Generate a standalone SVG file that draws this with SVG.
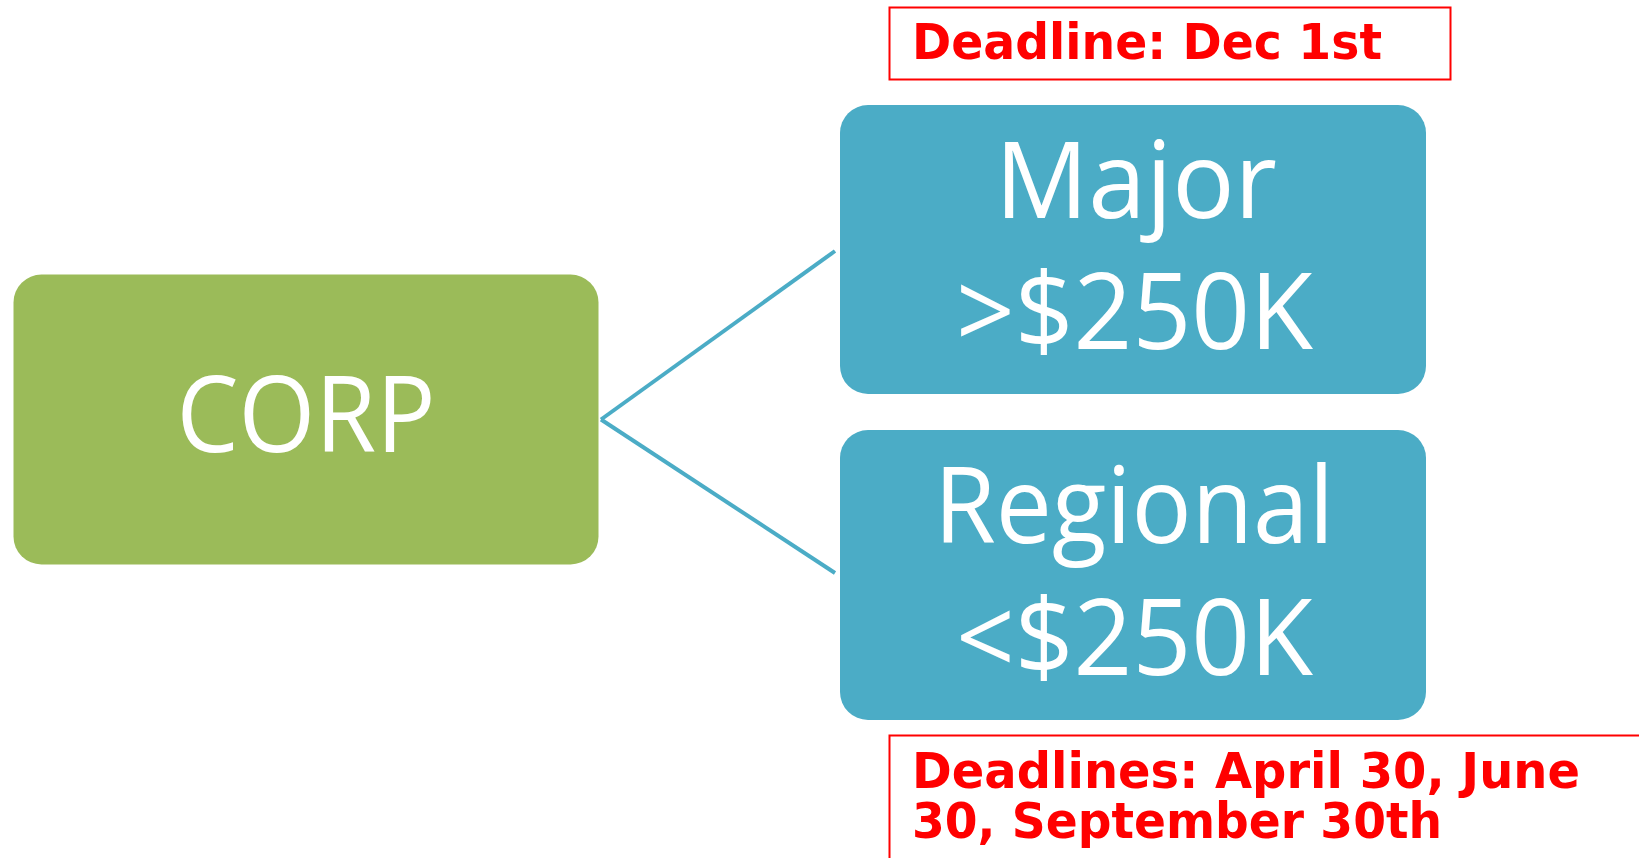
<svg xmlns="http://www.w3.org/2000/svg" width="1639" height="858" viewBox="0 0 1639 858">
  <style>
    .node-text { font-family: "Open Sans", "Noto Sans", "Liberation Sans", sans-serif; fill: #FFFFFF; font-size: 106px; text-anchor: middle; }
    .note-text { font-family: "DejaVu Sans", "Verdana", "Liberation Sans", sans-serif; font-weight: bold; fill: #FF0000; font-size: 49px; }
    .note-box { fill: #FFFFFF; stroke: #FF0000; stroke-width: 2; }
    .connector { stroke: #4BACC6; stroke-width: 4; fill: none; }
    .green { fill: #9BBB59; }
    .blue { fill: #4BACC6; }
  </style>
  <rect width="1639" height="858" fill="#FFFFFF"/>
  <g id="connectors">
    <line class="connector" x1="601" y1="419.5" x2="835" y2="251"/>
    <line class="connector" x1="601" y1="419.5" x2="835" y2="573"/>
  </g>
  <g id="corp">
    <rect class="green" x="13.5" y="274.5" width="585" height="290" rx="28" ry="28"/>
    <text class="node-text" x="306" y="452" font-size="108" textLength="259" lengthAdjust="spacingAndGlyphs">CORP</text>
  </g>
  <g id="major">
    <rect class="blue" x="840" y="105" width="586" height="289" rx="28" ry="28"/>
    <text class="node-text" x="1136" y="218" textLength="282" lengthAdjust="spacingAndGlyphs">Major</text>
    <text class="node-text" x="1134.5" y="349" textLength="357" lengthAdjust="spacingAndGlyphs">&gt;$250K</text>
  </g>
  <g id="regional">
    <rect class="blue" x="840" y="430" width="586" height="290" rx="28" ry="28"/>
    <text class="node-text" x="1134" y="543" textLength="400" lengthAdjust="spacingAndGlyphs">Regional</text>
    <text class="node-text" x="1134.5" y="675" textLength="357" lengthAdjust="spacingAndGlyphs">&lt;$250K</text>
  </g>
  <g id="deadline-major">
    <rect class="note-box" x="889.5" y="7.5" width="561" height="72"/>
    <text class="note-text" x="912" y="59" textLength="470" lengthAdjust="spacingAndGlyphs">Deadline: Dec 1st</text>
  </g>
  <g id="deadline-regional">
    <rect class="note-box" x="889.5" y="735.5" width="760" height="140"/>
    <text class="note-text" x="912" y="788" textLength="668" lengthAdjust="spacingAndGlyphs">Deadlines: April 30, June</text>
    <text class="note-text" x="912" y="838" textLength="530" lengthAdjust="spacingAndGlyphs">30, September 30th</text>
  </g>
</svg>
